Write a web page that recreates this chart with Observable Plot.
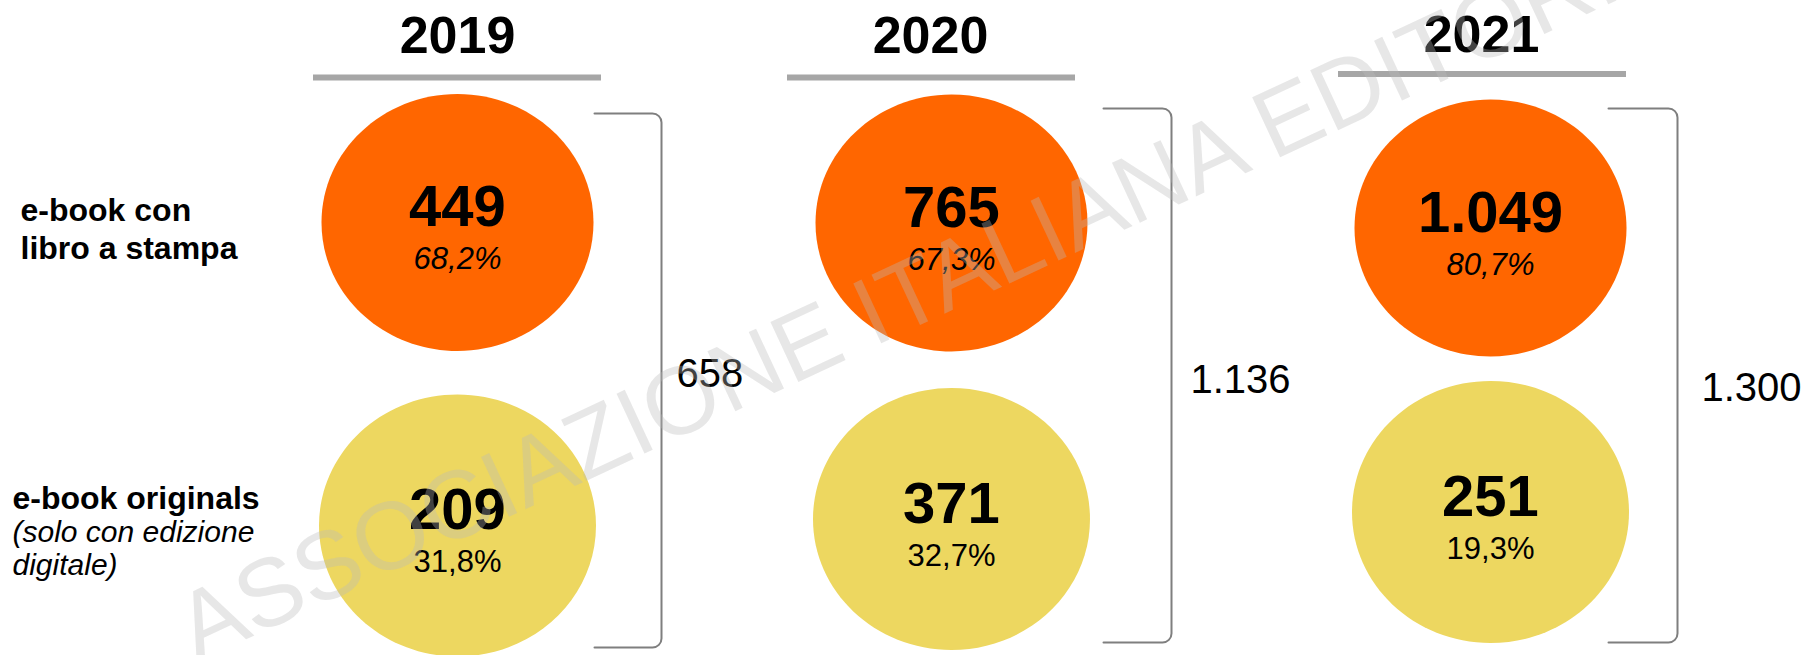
<!DOCTYPE html>
<html>
<head>
<meta charset="utf-8">
<script src="https://cdn.jsdelivr.net/npm/d3@7"></script>
<script src="https://cdn.jsdelivr.net/npm/@observablehq/plot@0.6"></script>
<style>
  html, body { margin: 0; padding: 0; background: #fff; }
  #chart { width: 1806px; height: 655px; overflow: hidden; }
</style>
</head>
<body>
<div id="chart"></div>
<script>
// ---- data ----
const years = ["2019", "2020", "2021"];
const categories = ["stampa", "originals"];
const categoryTitles = ["e-book con\nlibro a stampa", "e-book originals"];
const categoryNotes = ["", "(solo con edizione\ndigitale)"];
const printValues = [449, 765, 1049];
const originalsValues = [209, 371, 251];
const printShares = [68.2, 67.3, 80.7];
const originalsShares = [31.8, 32.7, 19.3];
const totals = [658, 1136, 1300];
const watermark = "ASSOCIAZIONE ITALIANA EDITORI";

// ---- tables built from the arrays ----
const cells = years.flatMap((year, i) => [
  {year, category: "stampa", value: printValues[i], share: printShares[i]},
  {year, category: "originals", value: originalsValues[i], share: originalsShares[i]}
]);
const columns = years.map((year, i) => ({year, total: totals[i]}));
const rowLabels = categories.map((c, i) => ({category: c, title: categoryTitles[i], note: categoryNotes[i]}));
const bracketPts = years.flatMap(year =>
  [["brL", "top"], ["brR", "top"], ["brR", "bottom"], ["brL", "bottom"]].map(([xk, yk]) => ({year, xk, yk}))
);

// ---- layout (scale ranges) ----
const layoutX = {
  "2019|circle": 457, "2020|circle": 951, "2021|circle": 1490,
  "2019|head": 457, "2020|head": 930, "2021|head": 1481,
  "2019|barL": 313, "2019|barR": 601,
  "2020|barL": 787, "2020|barR": 1075,
  "2021|barL": 1338, "2021|barR": 1626,
  "2019|brL": 594, "2019|brR": 661,
  "2020|brL": 1103, "2020|brR": 1171,
  "2021|brL": 1608, "2021|brR": 1677,
  "2019|tot": 676, "2020|tot": 1190, "2021|tot": 1701,
  "label|stampa": 20, "label|originals": 12,
  "wm": 196
};
const layoutY = {
  "stampa|2019": 222, "stampa|2020": 222.5, "stampa|2021": 227.5,
  "originals|2019": 525, "originals|2020": 518.5, "originals|2021": 511.5,
  "title|2019": 35.4, "title|2020": 35.4, "title|2021": 34.6,
  "bar|2019": 77, "bar|2020": 77, "bar|2021": 73.5,
  "top|2019": 113, "top|2020": 108, "top|2021": 108,
  "bottom|2019": 647, "bottom|2020": 642, "bottom|2021": 642,
  "tot|2019": 374, "tot|2020": 380, "tot|2021": 388,
  "labelTitle|stampa": 193.9, "labelTitle|originals": 482.3,
  "labelNote|originals": 518.5,
  "wm": 662
};

// ---- helpers ----
const it = d3.formatLocale({decimal: ",", thousands: ".", grouping: [3], currency: ["", "€"]});
const fmtInt = it.format(",");
const fmtPct = v => it.format(".1f")(v) + "%";

function ellipse(rx, ry) {
  const k = 0.5522847498;
  return {
    draw(ctx) {
      ctx.moveTo(rx, 0);
      ctx.bezierCurveTo(rx, k * ry, k * rx, ry, 0, ry);
      ctx.bezierCurveTo(-k * rx, ry, -rx, k * ry, -rx, 0);
      ctx.bezierCurveTo(-rx, -k * ry, -k * rx, -ry, 0, -ry);
      ctx.bezierCurveTo(k * rx, -ry, rx, -k * ry, rx, 0);
      ctx.closePath();
    }
  };
}

// polyline with rounded corners (bracket look)
function roundedCurve(radius) {
  return function (context) {
    let pts = [];
    return {
      areaStart() {}, areaEnd() {},
      lineStart() { pts = []; },
      point(x, y) { pts.push([+x, +y]); },
      lineEnd() {
        if (!pts.length) return;
        context.moveTo(pts[0][0], pts[0][1]);
        for (let i = 1; i < pts.length - 1; ++i) {
          context.arcTo(pts[i][0], pts[i][1], pts[i + 1][0], pts[i + 1][1], radius);
        }
        const last = pts[pts.length - 1];
        context.lineTo(last[0], last[1]);
      }
    };
  };
}

const font = "'Liberation Sans', Arial, sans-serif";
const isPrint = d => d.category === "stampa";
const isOrig = d => d.category === "originals";

const chart = Plot.plot({
  width: 1806,
  height: 655,
  margin: 0,
  style: {fontFamily: font, background: "#fff", color: "#000"},
  x: {type: "ordinal", domain: Object.keys(layoutX), range: Object.values(layoutX), axis: null},
  y: {type: "ordinal", domain: Object.keys(layoutY), range: Object.values(layoutY), axis: null},
  marks: [
    // circles
    Plot.dot(cells.filter(isPrint), {
      x: d => d.year + "|circle", y: d => d.category + "|" + d.year,
      symbol: ellipse(136, 128.5), fill: "#FF6600", r: 10
    }),
    Plot.dot(cells.filter(isOrig), {
      x: d => d.year + "|circle", y: d => d.category + "|" + d.year,
      symbol: ellipse(138.5, 131), fill: "#EDD760", r: 10
    }),
    // values
    Plot.text(cells, {
      x: d => d.year + "|circle", y: d => d.category + "|" + d.year,
      text: d => fmtInt(d.value), fontSize: 58, fontWeight: "bold", fill: "#000", dy: -15
    }),
    Plot.text(cells.filter(isPrint), {
      x: d => d.year + "|circle", y: d => d.category + "|" + d.year,
      text: d => fmtPct(d.share), fontSize: 31, fontStyle: "italic", fill: "#000", dy: 37
    }),
    Plot.text(cells.filter(isOrig), {
      x: d => d.year + "|circle", y: d => d.category + "|" + d.year,
      text: d => fmtPct(d.share), fontSize: 31, fill: "#000", dy: 37
    }),
    // brackets
    Plot.line(bracketPts, {
      x: d => d.year + "|" + d.xk, y: d => d.yk + "|" + d.year, z: "year",
      curve: roundedCurve(9),
      stroke: "#7f7f7f", strokeWidth: 2, strokeLinejoin: "round"
    }),
    // year header rules
    Plot.ruleY(years, {
      y: d => "bar|" + d, x1: d => d + "|barL", x2: d => d + "|barR",
      stroke: "#a6a6a6", strokeWidth: 6
    }),
    // year titles
    Plot.text(years, {
      x: d => d + "|head", y: d => "title|" + d, text: d => d,
      fontSize: 52, fontWeight: "bold", fill: "#000"
    }),
    // totals
    Plot.text(columns, {
      x: d => d.year + "|tot", y: d => "tot|" + d.year, text: d => fmtInt(d.total),
      fontSize: 40, textAnchor: "start", fill: "#000"
    }),
    // row labels
    Plot.text(rowLabels, {
      x: d => "label|" + d.category, y: d => "labelTitle|" + d.category, text: "title",
      fontSize: 32, fontWeight: "bold", textAnchor: "start", lineAnchor: "top",
      lineHeight: 1.172, fill: "#000"
    }),
    Plot.text(rowLabels.filter(d => d.note), {
      x: d => "label|" + d.category, y: d => "labelNote|" + d.category, text: "note",
      fontSize: 30, fontStyle: "italic", textAnchor: "start", lineAnchor: "top",
      lineHeight: 1.1, fill: "#000"
    }),
    // watermark
    Plot.text([watermark], {
      x: () => "wm", y: () => "wm", text: d => d,
      fontSize: 96, rotate: -25, textAnchor: "start", lineAnchor: "bottom",
      fill: "#b9b9b9", fillOpacity: 0.35
    })
  ]
});
document.getElementById("chart").appendChild(chart);
</script>
</body>
</html>
